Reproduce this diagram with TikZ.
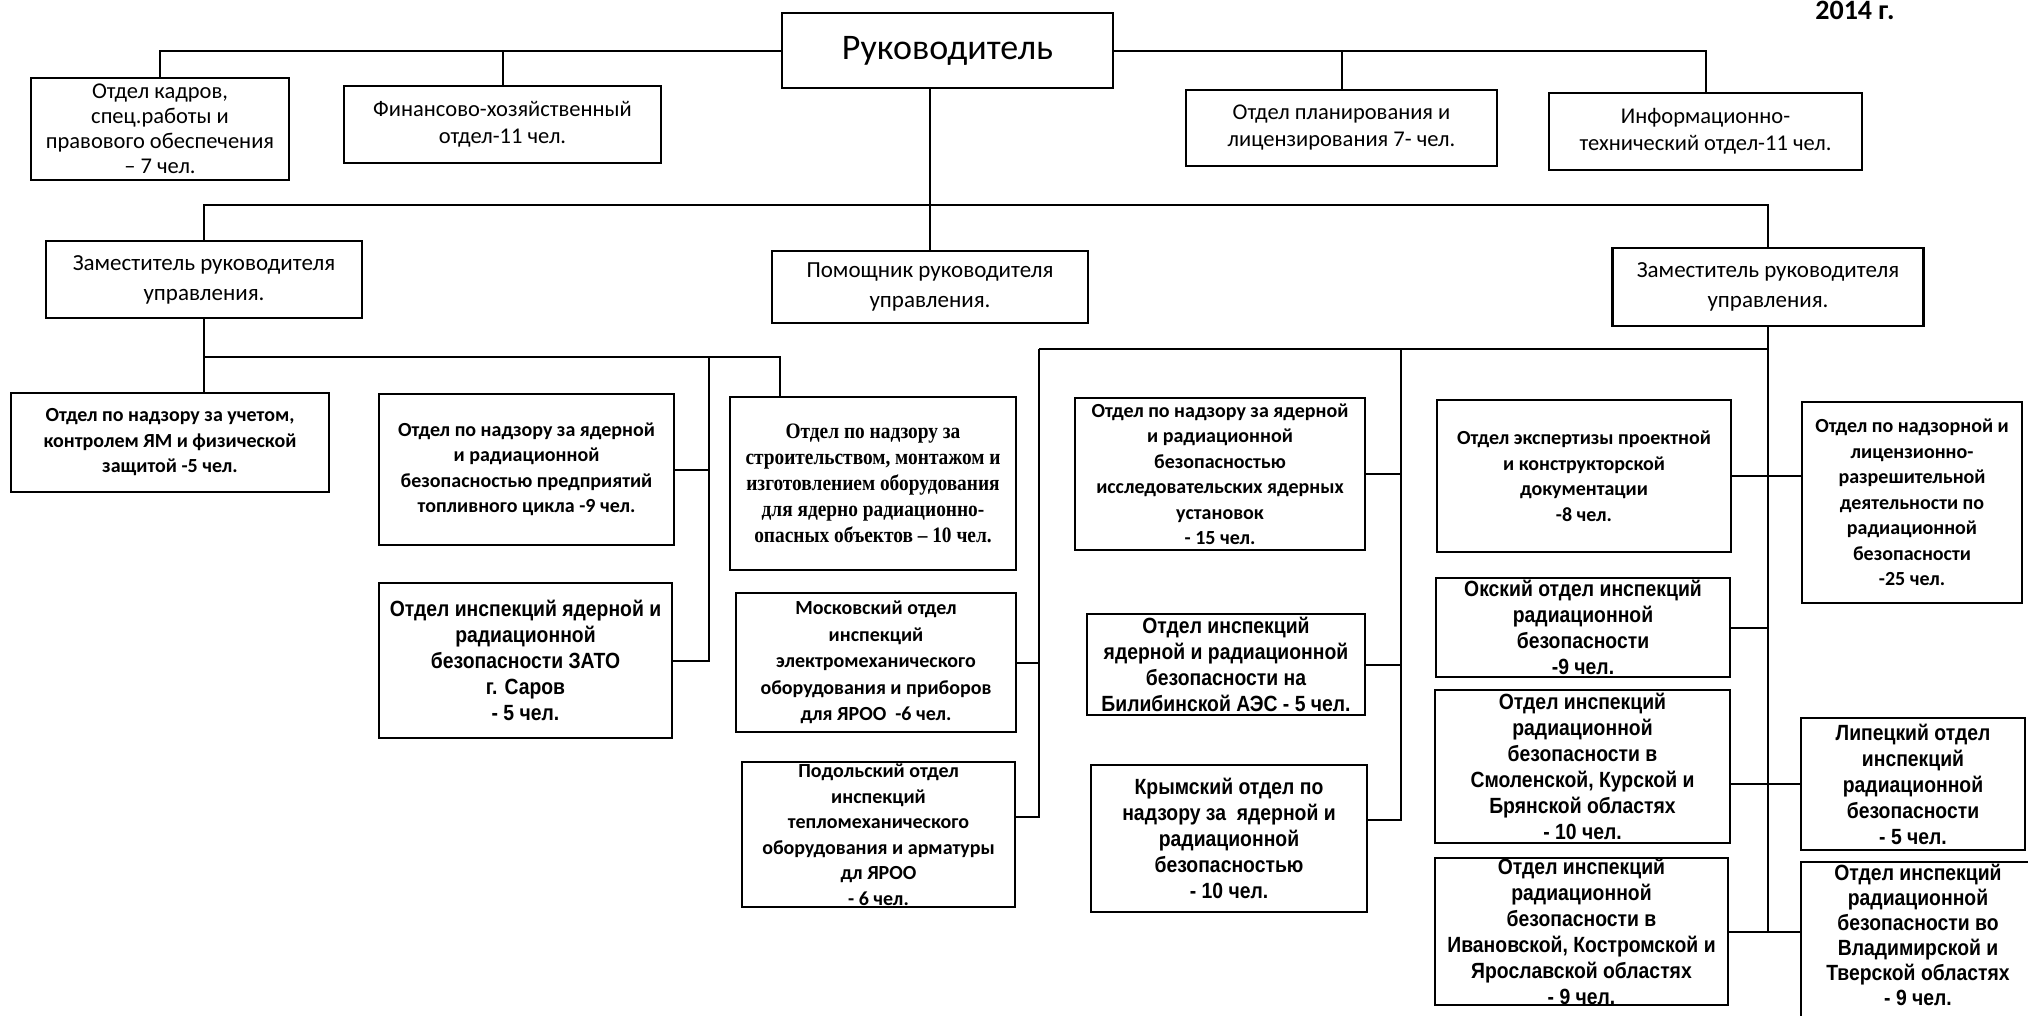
\documentclass[tikz,border=0pt]{standalone}
\usepackage{fontspec}
\setmainfont{Carlito}
\newfontfamily\arialn[FakeStretch=0.88]{Liberation Sans}
\newfontfamily\timesn[FakeStretch=0.88]{Liberation Serif}

\begin{document}
\begin{tikzpicture}[x=1pt,y=-1pt,
	box/.style={draw, line width=2.4pt, align=center, inner xsep=3pt, inner ysep=1pt},
	sz/.style 2 args={minimum width=#1, minimum height=#2},
	top/.style={box, font=\fontsize{22.5}{27}\selectfont},
	chief/.style={box, font=\fontsize{23}{30}\selectfont},
	dept/.style={box, font=\bfseries\fontsize{20}{25.5}\selectfont},
	arl/.style={box, font=\arialn\bfseries\fontsize{22}{26}\selectfont},
	tms/.style={box, font=\timesn\bfseries\fontsize{22}{26}\selectfont},
	link/.style={line width=2pt}]
	\useasboundingbox (0,0) rectangle (2028,1015);
	\clip (0,0) rectangle (2028,1015);

	\node[font=\bfseries\fontsize{28}{30}\selectfont, inner sep=0pt] (year) at (1855,10) {2014 г.};

	% top row
	\node[top, sz={331}{75}, font=\fontsize{36}{40}\selectfont] (boss) at (947.5,50.5) {Руководитель};
	\node[top, sz={258}{102}, font=\fontsize{22.5}{25}\selectfont] (kadry) at (160,129) {Отдел кадров,\\ спец.работы и\\ правового обеспечения\\ – 7 чел.};
	\node[top, sz={317}{77}] (fin) at (502.5,124.5) {Финансово-хозяйственный\\ отдел-11 чел.};
	\node[top, sz={311}{76}] (plan) at (1341.5,128) {Отдел планирования и\\ лицензирования 7- чел.};
	\node[top, sz={313}{77}] (info) at (1705.5,131.5) {Информационно-\\ технический отдел-11 чел.};

	\node[chief, sz={316}{77}] (zam1) at (204,279.5) {Заместитель руководителя\\ управления.};
	\node[chief, sz={316}{72}] (pom) at (930,287) {Помощник руководителя\\ управления.};
	\node[chief, sz={311}{78}] (zam2) at (1768,287) {Заместитель руководителя\\ управления.};

	% departments
	\node[dept, sz={318}{99}] (uchet) at (170,442.5) {Отдел по надзору за учетом,\\ контролем ЯМ и физической\\ защитой -5 чел.};
	\node[dept, sz={295}{151}] (fuel) at (526.5,469.5) {Отдел по надзору за ядерной\\ и радиационной\\ безопасностью предприятий\\ топливного цикла -9 чел.};
	\node[arl, sz={293}{155}] (zato) at (525.5,660.5) {Отдел инспекций ядерной и\\ радиационной\\ безопасности ЗАТО\\ г. Саров\\ - 5 чел.};
	\node[tms, sz={286}{173}] (stroy) at (873,483.5) {Отдел по надзору за\\ строительством, монтажом и\\ изготовлением оборудования\\ для ядерно радиационно-\\ опасных объектов – 10 чел.};
	\node[dept, sz={280}{139}, font=\bfseries\fontsize{20}{26.5}\selectfont] (mosk) at (876,662.5) {Московский отдел\\ инспекций\\ электромеханического\\ оборудования и приборов\\ для ЯРОО~ -6 чел.};
	\node[dept, sz={273}{145}, inner ysep=0pt] (podol) at (878.5,834.5) {Подольский отдел\\ инспекций\\ тепломеханического\\ оборудования и арматуры\\ дл ЯРОО\\ - 6 чел.};
	\node[dept, sz={290}{152}] (research) at (1220,474) {Отдел по надзору за ядерной\\ и радиационной\\ безопасностью\\ исследовательских ядерных\\ установок\\ - 15 чел.};
	\node[arl, sz={278}{101}] (bilib) at (1226,664.5) {Отдел инспекций\\ ядерной и радиационной\\ безопасности на\\ Билибинской АЭС - 5 чел.};
	\node[arl, sz={276}{147}] (crimea) at (1229,838.5) {Крымский отдел по\\ надзору за~ ядерной и\\ радиационной\\ безопасностью\\ - 10 чел.};
	\node[dept, sz={294}{152}] (expert) at (1584,476) {Отдел экспертизы проектной\\ и конструкторской\\ документации\\ -8 чел.};
	\node[arl, sz={294}{99}] (oksk) at (1583,627.5) {Окский отдел инспекций\\ радиационной\\ безопасности\\ -9 чел.};
	\node[arl, sz={295}{153}] (smol) at (1582.5,766.5) {Отдел инспекций\\ радиационной\\ безопасности в\\ Смоленской, Курской и\\ Брянской областях\\ - 10 чел.};
	\node[arl, sz={293}{147}, inner ysep=0pt] (ivan) at (1581.5,931.5) {Отдел инспекций\\ радиационной\\ безопасности в\\ Ивановской, Костромской и\\ Ярославской областях\\ - 9 чел.};
	\node[dept, sz={220}{201}] (nadzor) at (1912,502.5) {Отдел по надзорной и\\ лицензионно-\\ разрешительной\\ деятельности по\\ радиационной\\ безопасности\\ -25 чел.};
	\node[arl, sz={224}{132}] (lipetsk) at (1913,784) {Липецкий отдел\\ инспекций\\ радиационной\\ безопасности\\ - 5 чел.};
	\node[arl, sz={234}{163}, text depth=18pt, font=\arialn\bfseries\fontsize{22}{25}\selectfont] (vlad) at (1918,943.5) {Отдел инспекций\\ радиационной\\ безопасности во\\ Владимирской и\\ Тверской областях\\ - 9 чел.};

	% links
	\draw[link] (boss.west) -| (kadry.north);
	\draw[link] (boss.west) -| (fin.north);
	\draw[link] (boss.east) -| (plan.north);
	\draw[link] (boss.east) -| (info.north);
	\coordinate (hub) at (930,205);
	\draw[link] (pom.north) -- (pom.north |- boss.south);
	\draw[link] (zam1.north) |- (hub) -| (zam2.north);

	\coordinate (lbus) at (780,357);
	\coordinate (lv) at (709,357);
	\draw[link] (zam1.south) -- (zam1.south |- uchet.north);
	\draw[link] (zam1.south |- lbus) -- (lbus) -- (lbus |- stroy.north);
	\draw[link] (lv) |- (zato.east);
	\draw[link] (fuel.east) -- (fuel.east -| lv);

	\coordinate (rbus) at (1039,349);
	\coordinate (rbot) at (1039,817);
	\coordinate (rv) at (1401,349);
	\coordinate (rvbot) at (1401,820);
	\draw[link] (zam2.south) -- (zam2.south |- ivan.east);
	\draw[link] (rbus) -- (rbus -| zam2.south);
	\draw[link] (rbus) -- (rbot) -- (rbot -| podol.east);
	\draw[link] (mosk.east) -- (mosk.east -| rbus);
	\draw[link] (rv) -- (rvbot) -- (rvbot -| crimea.east);
	\draw[link] (research.east) -- (research.east -| rv);
	\draw[link] (bilib.east) -- (bilib.east -| rv);
	\draw[link] (expert.east) -- (expert.east -| nadzor.west);
	\draw[link] (oksk.east) -- (oksk.east -| zam2.south);
	\draw[link] (lipetsk.west) -- (lipetsk.west -| smol.east);
	\draw[link] (ivan.east) -- (ivan.east -| vlad.west);
\end{tikzpicture}
\end{document}
